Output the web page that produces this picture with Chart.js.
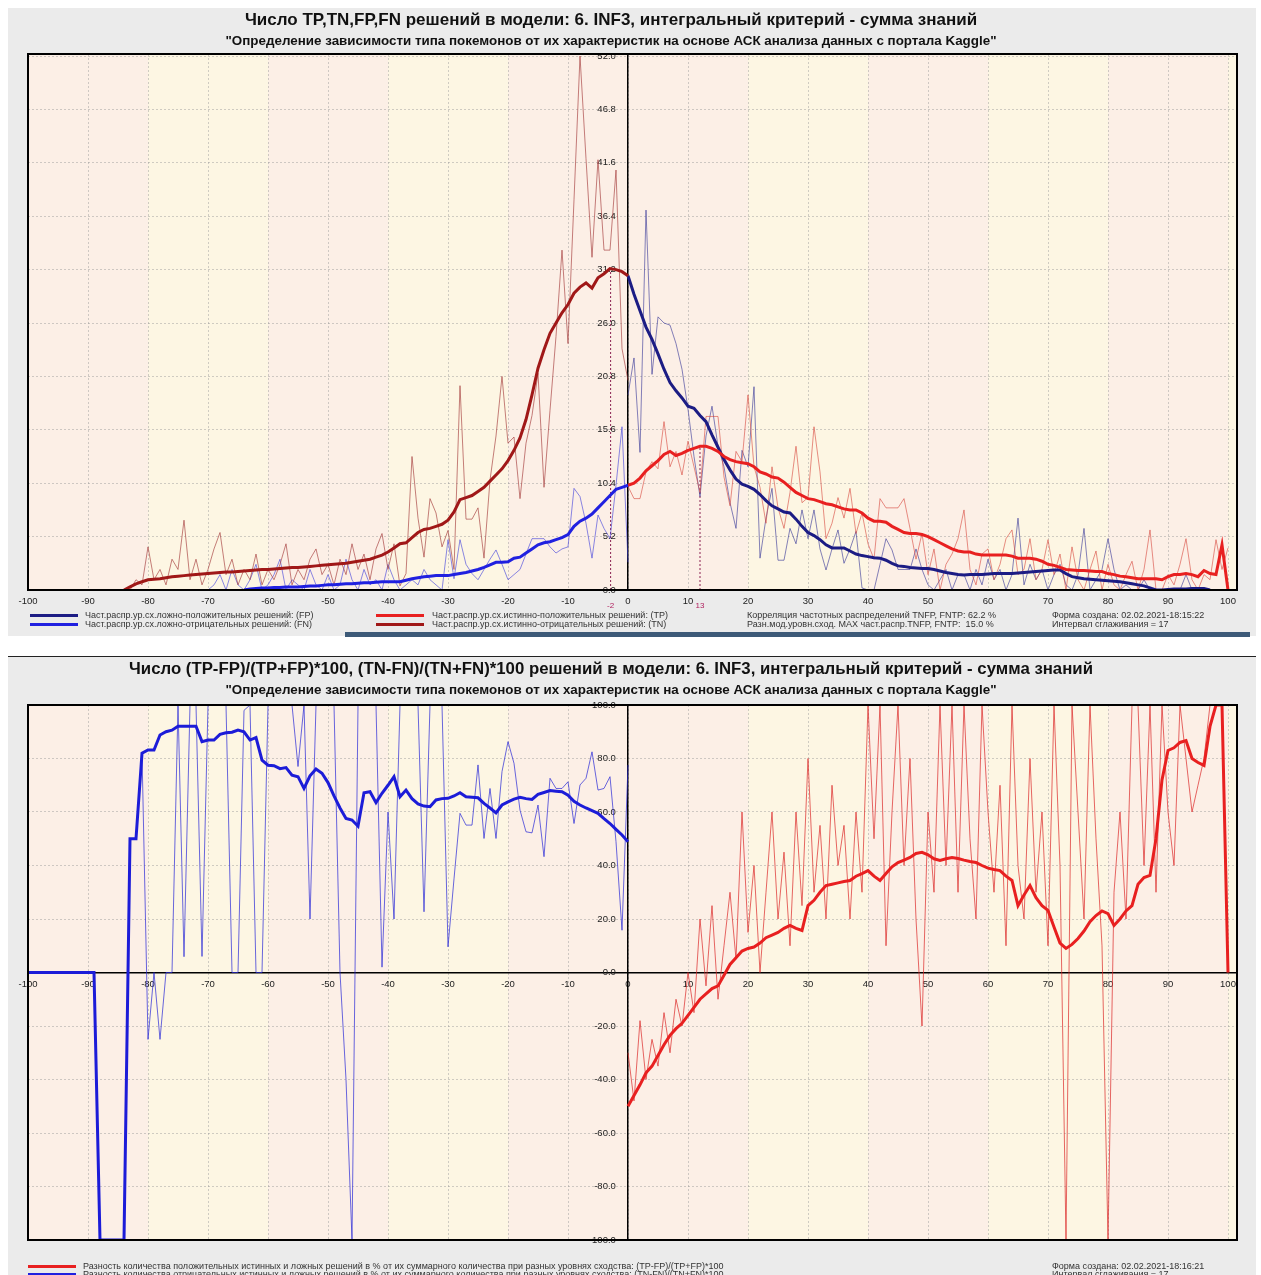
<!DOCTYPE html>
<html>
<head>
<meta charset="utf-8">
<script src="https://cdn.jsdelivr.net/npm/chart.js@4.4.1/dist/chart.umd.min.js"></script>
<style>
  body { margin: 0; width: 1261px; height: 1275px; overflow: hidden; background: #fff; font-family: "Liberation Sans", Arial, sans-serif; position: relative; }
  .panel { position: absolute; left: 8px; width: 1248px; background: #ebebeb; }
  #p1 { top: 8px; height: 628px; }
  #p2 { top: 656px; height: 619px; border-top: 1px solid #222; }
  canvas { position: absolute; left: 8px; }
  .ttl { position: absolute; left: 0; width: 1222px; text-align: center; font-weight: bold; color: #111; white-space: nowrap; }
  .t1 { font-size: 17px; line-height: 18px; }
  .t1b { font-size: 16.8px; line-height: 18px; }
  .t2 { font-size: 13.4px; line-height: 14px; }
  .lg { position: absolute; font-size: 9px; line-height: 9px; color: #333; white-space: nowrap; }
  .sw { position: absolute; height: 3px; width: 48px; }
  #bar { position: absolute; left: 345px; top: 632px; width: 905px; height: 5px; background: #3d5a78; }
</style>
</head>
<body>
<div class="panel" id="p1"></div>
<div class="panel" id="p2"></div>
<div id="bar"></div>
<canvas id="c1" width="1248" height="628" style="top:8px"></canvas>
<canvas id="c2" width="1248" height="619" style="top:656px"></canvas>

<div class="ttl t1" style="top:11px">Число TP,TN,FP,FN решений в модели: 6. INF3, интегральный критерий - сумма знаний</div>
<div class="ttl t2" style="top:34px">"Определение зависимости типа покемонов от их характеристик на основе АСК анализа данных с портала Kaggle"</div>
<div class="ttl t1b" style="top:660px">Число (TP-FP)/(TP+FP)*100, (TN-FN)/(TN+FN)*100 решений в модели: 6. INF3, интегральный критерий - сумма знаний</div>
<div class="ttl t2" style="top:683px">"Определение зависимости типа покемонов от их характеристик на основе АСК анализа данных с портала Kaggle"</div>

<div class="sw" style="left:30px;top:614px;background:#1c1c84"></div>
<div class="sw" style="left:30px;top:623px;background:#2020e0"></div>
<div class="lg" style="left:85px;top:611px">Част.распр.ур.сх.ложно-положительных решений: (FP)</div>
<div class="lg" style="left:85px;top:620px">Част.распр.ур.сх.ложно-отрицательных решений: (FN)</div>
<div class="sw" style="left:376px;top:614px;background:#e82020"></div>
<div class="sw" style="left:376px;top:623px;background:#a01818"></div>
<div class="lg" style="left:432px;top:611px">Част.распр.ур.сх.истинно-положительных решений: (TP)</div>
<div class="lg" style="left:432px;top:620px">Част.распр.ур.сх.истинно-отрицательных решений: (TN)</div>
<div class="lg" style="left:747px;top:611px">Корреляция частотных распределений TNFP, FNTP: 62.2 %</div>
<div class="lg" style="left:747px;top:620px">Разн.мод.уровн.сход. MAX част.распр.TNFP, FNTP:&nbsp; 15.0 %</div>
<div class="lg" style="left:1052px;top:611px">Форма создана: 02.02.2021-18:15:22</div>
<div class="lg" style="left:1052px;top:620px">Интервал сглаживания = 17</div>

<div class="sw" style="left:28px;top:1265px;background:#e82020"></div>
<div class="sw" style="left:28px;top:1273px;background:#2020e0"></div>
<div class="lg" style="left:83px;top:1262px">Разность количества положительных истинных и ложных решений в % от их суммарного количества при разных уровнях сходства: (TP-FP)/(TP+FP)*100</div>
<div class="lg" style="left:83px;top:1270px">Разность количества отрицательных истинных и ложных решений в % от их суммарного количества при разных уровнях сходства: (TN-FN)/(TN+FN)*100</div>
<div class="lg" style="left:1052px;top:1262px">Форма создана: 02.02.2021-18:16:21</div>
<div class="lg" style="left:1052px;top:1270px">Интервал сглаживания = 17</div>

<script>
// ---- данные: верхний график (частоты), шаг 1 по уровню сходства ----
const tnStart = -84;
const tnThick = [0, 0.3, 0.6, 0.8, 1.0, 1.05, 1.1, 1.2, 1.3, 1.35,
  1.4, 1.45, 1.5, 1.55, 1.6, 1.65, 1.7, 1.75, 1.75, 1.8,
  1.85, 1.9, 1.95, 2.0, 2.0, 2.05, 2.1, 2.15, 2.2, 2.2,
  2.25, 2.3, 2.35, 2.4, 2.45, 2.5, 2.55, 2.6, 2.7, 2.8,
  2.9, 3.0, 3.2, 3.4, 3.7, 4.1, 4.5, 4.6, 5.1, 5.6,
  5.9, 6.0, 6.2, 6.4, 6.8, 7.6, 8.8, 9.0, 9.2, 9.6,
  10.0, 10.6, 11.2, 11.8, 12.6, 13.6, 14.8, 16.6, 19.0, 21.6,
  23.4, 25.0, 26.0, 27.0, 27.8, 28.9, 29.5, 29.9, 29.4, 30.4,
  30.8, 31.3, 31.2, 31.0, 30.6];
const tnRaw = [0, 0, 1.0, 0.5, 4.2, 1.0, 2.0, 0.5, 3.0, 2.0,
  6.8, 1.0, 3.0, 0.5, 2.0, 4.0, 5.6, 1.5, 3.0, 0.5,
  2.0, 1.0, 3.5, 0.5, 2.0, 1.0, 2.5, 4.5, 0.5, 2.0,
  1.0, 3.0, 4.0, 1.5, 2.5, 0.5, 3.0, 1.5, 4.5, 2.0,
  3.5, 1.0, 4.0, 5.5, 2.0, 4.5, 0.4, 1.6, 13.0, 7.0,
  3.2, 8.9, 7.5, 4.2, 5.8, 2.0, 19.9, 6.9, 6.9, 8.0,
  3.1, 10.7, 15.0, 20.8, 14.3, 14.9, 8.9, 14.3, 17.0, 21.1,
  10.0, 17.5, 24.7, 33.1, 24.0, 38.0, 52.0, 42.0, 32.4, 41.9,
  33.1, 33.1, 40.9, 23.5, 20.4];

const fnStart = -64;
const fnThick = [0, 0.1, 0.15, 0.2, 0.2, 0.25, 0.25, 0.3, 0.3, 0.3,
  0.35, 0.4, 0.4, 0.45, 0.5, 0.5, 0.55, 0.6, 0.6, 0.65,
  0.7, 0.7, 0.75, 0.8, 0.8, 0.8, 0.8, 0.95, 1.1, 1.2,
  1.3, 1.35, 1.4, 1.4, 1.4, 1.5, 1.6, 1.7, 1.85, 2.0,
  2.2, 2.45, 2.7, 2.7, 2.75, 3.1, 3.2, 3.6, 4.0, 4.4,
  4.6, 4.7, 4.9, 5.1, 5.4, 6.2, 6.7, 7.0, 7.4, 8.0,
  8.6, 9.2, 9.8, 10.0, 10.2];
const fnRawStart = -70;
const fnRaw = [0, 0.5, 1.5, 0, 2.0, 0.5, 0, 1.0, 2.5, 0,
  0.5, 1.5, 3.0, 0, 1.0, 0.5, 0, 2.0, 0.5, 0,
  1.5, 0, 0.5, 3.0, 1.0, 0, 2.0, 0.5, 1.0, 0,
  2.5, 1.0, 0, 0.5, 1.0, 0.5, 2.0, 1.0, 0.5, 0,
  4.9, 1.1, 4.9, 2.5, 1.6, 1.0, 2.0, 3.0, 3.9, 2.5,
  1.0, 1.5, 2.0, 3.5, 5.0, 5.0, 5.0, 4.2, 3.6, 4.0,
  4.2, 9.9, 9.1, 6.5, 3.1, 7.3, 6.0, 5.0, 10.2, 15.9,
  2.7];

const tpStart = 0;
const tpThick = [10.2, 10.4, 10.9, 11.6, 12.1, 12.6, 13.2, 13.5, 13.1, 13.3,
  13.6, 13.8, 14.0, 14.0, 13.8, 13.5, 13.0, 12.7, 12.5, 12.4,
  12.3, 12.0, 11.5, 11.3, 11.0, 10.9, 10.5, 10.0, 9.5, 9.2,
  8.9, 8.8, 8.6, 8.4, 8.3, 8.1, 7.9, 7.8, 7.8, 7.5,
  7.0, 6.7, 6.7, 6.6, 6.2, 5.9, 5.6, 5.5, 5.5, 5.4,
  5.2, 4.9, 4.6, 4.3, 4.0, 3.8, 3.7, 3.7, 3.5, 3.4,
  3.4, 3.4, 3.4, 3.4, 3.3, 3.1, 3.1, 3.1, 3.0, 2.8,
  2.5, 2.4, 2.2, 2.0, 1.95, 1.9, 1.9, 1.85, 1.8, 1.8,
  1.6, 1.5, 1.35, 1.3, 1.2, 1.1, 1.1, 1.1, 1.1, 1.0,
  1.3, 1.5, 1.5, 1.6, 1.5, 1.3, 1.9, 1.6, 1.5, 4.4,
  0];
const tpRaw = [10.1, 8.9, 8.9, 11.5, 12.5, 11.8, 16.4, 12.0, 13.5, 11.2,
  14.5, 12.0, 9.5, 16.9, 16.9, 16.9, 11.0, 8.2, 13.5, 12.5,
  19.0, 12.0, 10.0, 6.5, 12.0, 8.0, 6.0, 9.5, 14.0, 8.5,
  9.0, 15.9, 11.5, 5.0, 6.5, 9.0, 7.0, 9.9, 5.5, 7.5,
  4.5, 3.0, 8.9, 8.0, 8.0, 8.0, 8.9, 6.0, 3.0, 5.5,
  1.5, 4.0, 0, 2.5, 3.5, 5.0, 7.8, 2.0, 0.5, 3.5,
  4.0, 1.0, 2.5, 5.0, 5.85, 1.5, 2.0, 5.0, 1.0, 2.0,
  4.9, 1.5, 3.5, 0, 4.2, 1.0, 0, 2.0, 3.8, 0,
  2.5, 0.5, 0, 1.5, 2.8, 0, 2.0, 5.85, 0, 0,
  1.5, 0.5, 2.5, 5.0, 1.0, 0, 1.5, 1.0, 4.9, 2.0,
  4.1];

const fpStart = 0;
const fpThick = [30.6, 28.8, 27.2, 25.6, 24.4, 23.0, 21.5, 20.2, 19.4, 18.7,
  17.9, 17.7, 17.0, 16.4, 15.1, 13.9, 12.7, 11.7, 10.8, 10.3,
  10.1, 9.8, 9.3, 8.7, 8.2, 7.9, 7.6, 7.5, 6.9, 6.2,
  5.6, 5.3, 4.9, 4.4, 4.1, 4.1, 4.1, 3.8, 3.5, 3.35,
  3.25, 3.15, 3.1, 2.9, 2.6, 2.35, 2.3, 2.2, 2.15, 2.1,
  2.1, 2.0, 1.85, 1.7, 1.6, 1.5, 1.45, 1.5, 1.5, 1.5,
  1.55, 1.6, 1.6, 1.6, 1.6, 1.65, 1.7, 1.75, 1.8, 1.85,
  1.9, 1.95, 1.95, 1.6, 1.3, 1.2, 1.1, 1.05, 1.0, 0.95,
  0.9, 0.85, 0.8, 0.7, 0.6, 0.5, 0.4, 0.2, 0, 0,
  0.05, 0.1, 0.1, 0.1, 0.15, 0.15, 0.15, 0];
const fpRaw = [19.0, 22.6, 13.4, 37.0, 21.0, 26.6, 26.0, 25.8, 24.0, 21.5,
  17.6, 13.0, 9.1, 15.0, 17.9, 14.0, 12.0, 8.5, 6.0, 13.6,
  12.0, 19.8, 3.1, 7.0, 9.9, 2.9, 2.9, 6.0, 4.5, 7.8,
  5.0, 7.8, 4.0, 1.95, 4.0, 5.85, 2.6, 4.0, 5.7, 0.2,
  0, 0, 2.5, 5.0, 3.9, 2.0, 2.0, 2.0, 4.0, 2.0,
  0.5, 0, 1.0, 2.0, 0, 1.5, 1.5, 0, 2.0, 0.5,
  3.0, 1.0, 2.0, 0, 1.5, 7.0, 0.5, 2.5, 1.0, 2.0,
  0, 1.5, 2.5, 0.5, 0, 1.5, 6.0, 0, 1.0, 2.0,
  5.0, 2.0, 0, 0.5, 0, 0, 1.0, 0, 0, 0,
  0, 0, 0, 1.5, 0, 0, 0, 0];

// пунктирные маркеры максимумов и подписи к ним
const markPos = [-2.9, 12];
const markTop = [31.3, 14.0];
const markText = ["-2", "13"];

// ---- данные: нижний график (разности в %) ----
const negStart = -100;
const negThick = [0, 0, 0, 0, 0, 0, 0, 0, 0, 0,
  0, 0, -100, -100, -100, -100, -100, 50, 50, 82,
  83.2, 83.2, 88.8, 90, 90.6, 92.1, 92.1, 92.1, 92.1, 86.3,
  86.9, 86.9, 89.0, 89.6, 89.8, 90.6, 90.0, 86.9, 87.8, 79.4,
  77.5, 77.3, 76.2, 76.6, 73.8, 73.2, 68.8, 73.5, 76.1, 74.5,
  71.0, 66.0, 61.5, 57.6, 57.0, 54.7, 67.2, 67.6, 63.5, 67.0,
  70.0, 73.2, 65.7, 68.2, 65.0, 63.0, 62.2, 62.0, 64.5, 65.0,
  65.1, 66.0, 67.2, 65.7, 65.5, 65.3, 63.2, 61.5, 59.7, 62.6,
  63.8, 64.8, 65.5, 65.0, 64.7, 66.6, 67.3, 68.0, 67.8, 67.6,
  66.3, 64.0, 62.6, 61.5, 60.5, 59.5, 57.5, 55.7, 53.5, 51.4,
  48.9];
const negRaw = [0, 0, 0, 0, 0, 0, 0, 0, 0, 0,
  0, 0, -100, -100, -100, -100, -100, 50, 50, 82,
  -25, 0, -25, 0, 0, 100, 5.9, 100, 100, 6,
  100, 100, 100, 100, 0, 0, 98, 100, 0, 0,
  100, 100, 100, 100, 100, 77, 100, 20, 100, 100,
  100, 100, 0, -40, -100, 100, 100, 100, 100, 2,
  60, 20, 100, 100, 100, 100, 22.7, 100, 100, 100,
  9.6, 35, 59.5, 55.1, 55.1, 77.6, 50.1, 68.8, 50.1, 75.1,
  86.3, 78.2, 60.7, 52.6, 52.2, 62.6, 43.3, 72.6, 68.8, 68.8,
  71.3, 55.7, 70.1, 72.6, 82.5, 68.2, 68.8, 73.2, 48.9, 15.8,
  77.6];

const posStart = 0;
const posThick = [-50, -46, -42, -37.5, -35, -31, -27, -23.5, -21, -19,
  -16, -13, -10, -8, -6, -5, -1, 3, 5.5, 8,
  9, 9.5, 11, 13, 14, 15, 16.5, 17.6, 16.5, 15.7,
  25, 27, 30, 32.5, 33, 33.5, 34, 34.4, 36, 37,
  38.1, 36, 34.4, 37, 39.5, 41.1, 42, 43, 44.5, 44.9,
  44, 42.5, 41.9, 42.5, 43, 42.6, 42, 41.5, 41.1, 40,
  39, 38.5, 38.1, 36, 34.4, 25, 29, 32.5, 28, 25,
  23.2, 17, 11, 9, 10.5, 12.7, 15.5, 19, 21.3, 23,
  22, 17.6, 20, 23, 25, 33, 35.5, 36.3, 50, 72,
  83, 84, 86, 86.7, 80, 78.5, 77.4, 92, 100, 100,
  0];
const posRaw = [-30, -48, -18, -40, -25, -35, -15, -30, -10, -20,
  0, -15, 20, -5, 25, -10, 10, 30, 5, 60,
  15, 40, 0, 30, 60, 20, 45, 10, 60, 25,
  80, 30, 55, 20, 70, 40, 55, 20, 60, 30,
  100, 50, 100, 10, 60, 100, 40, 80, 20, -20,
  60, 30, 100, 40, 100, 30, 100, 50, 20, 100,
  60, 30, 70, 10, 100, 40, 20, 80, 30, 60,
  10, 100, 40, -100, 100, 60, 20, 100, 50, 10,
  -100, 30, 60, 20, 100, 100, 40, 100, 30, 100,
  60, 40, 100, 80, 60, 70, 80, 100, 100, 100,
  0];

const xTicks = [-100, 101.5, 10];
const legendFont = '"Liberation Sans", Arial, sans-serif';

// ---------------------------------------------------------------
function pts(start, arr) {
  return arr.map((y, i) => ({ x: start + i, y }));
}

function line(data, color, width, order) {
  return { data, borderColor: color, borderWidth: width, pointRadius: 0, tension: 0, order, fill: false };
}

// подпись оси Y у нулевой вертикали: отступ от оси пробелами
const yLabel = v => Number(v).toFixed(1) + "\u2002\u2002 ";

Chart.defaults.font.family = legendFont;
Chart.defaults.color = "#222";

// полосы фона по 20 единиц, розовые у нуля
const bandsPlugin = {
  id: "bands",
  beforeDraw(chart) {
    const { ctx, chartArea: a, scales: { x } } = chart;
    ctx.save();
    for (let v = -100; v < x.max; v += 20) {
      const l = x.getPixelForValue(v);
      const r = x.getPixelForValue(Math.min(v + 20, x.max));
      const idx = v < 0 ? Math.floor(-(v + 1) / 20) : Math.floor(v / 20);
      ctx.fillStyle = idx % 2 === 0 ? "#fcefe6" : "#fdf6e3";
      ctx.fillRect(l, a.top, r - l, a.bottom - a.top);
    }
    ctx.restore();
  }
};

const framePlugin = {
  id: "frame",
  afterDraw(chart) {
    const { ctx, chartArea: a } = chart;
    ctx.save();
    ctx.strokeStyle = "#000";
    ctx.lineWidth = 2;
    ctx.strokeRect(a.left, a.top, a.right - a.left, a.bottom - a.top);
    ctx.restore();
  }
};

const markLabels = {
  id: "markLabels",
  afterDraw(chart) {
    const { ctx, chartArea: a, scales: { x } } = chart;
    ctx.save();
    ctx.fillStyle = "#b0205e";
    ctx.font = "8px " + legendFont;
    ctx.textAlign = "center";
    ctx.textBaseline = "top";
    markPos.forEach((p, i) => ctx.fillText(markText[i], x.getPixelForValue(p), a.bottom + 12));
    ctx.restore();
  }
};

const gridStyle = { color: "rgba(150,150,150,0.45)", drawTicks: false };
const tickFont = { size: 9.5 };

function xScale(extra) {
  return Object.assign({
    type: "linear", min: xTicks[0], max: xTicks[1],
    ticks: { stepSize: xTicks[2], includeBounds: false, font: tickFont, color: "#222", padding: 6, callback: v => String(v) },
    grid: gridStyle,
    border: { color: "#000", width: 1, dash: [2, 2] }
  }, extra);
}

// ---- верхний график ----
const markSets = markPos.map((p, i) => ({
  data: [{ x: p, y: 0 }, { x: p, y: markTop[i] }],
  borderColor: "#8b2252", borderWidth: 1, borderDash: [2, 2], pointRadius: 0, order: 5
}));

new Chart(document.getElementById("c1"), {
  type: "line",
  data: {
    datasets: [
      line(pts(tnStart, tnRaw), "rgba(165,60,60,0.65)", 1, 4),
      line(pts(fnRawStart, fnRaw), "rgba(60,60,220,0.6)", 1, 4),
      line(pts(tpStart, tpRaw), "rgba(215,70,60,0.6)", 1, 4),
      line(pts(fpStart, fpRaw), "rgba(50,50,150,0.6)", 1, 4),
      ...markSets,
      line(pts(tnStart, tnThick), "#a01818", 3, 1),
      line(pts(fnStart, fnThick), "#2020e0", 3, 1),
      line(pts(tpStart, tpThick), "#e82020", 3, 1),
      line(pts(fpStart, fpThick), "#1c1c84", 3, 1)
    ]
  },
  options: {
    responsive: false, animation: false, devicePixelRatio: 1,
    layout: { padding: { left: 20, right: 19, top: 46, bottom: 26 } },
    plugins: { legend: { display: false }, tooltip: { enabled: false } },
    scales: {
      x: xScale({ position: "bottom", afterFit: s => { s.height = 20; } }),
      y: {
        type: "linear", position: { x: 0 }, min: 0, max: 52.2,
        ticks: { stepSize: 5.2, includeBounds: false, font: tickFont, color: "#222", callback: yLabel },
        grid: gridStyle,
        border: { color: "#000", width: 1.5, dash: [2, 2] }
      }
    }
  },
  plugins: [bandsPlugin, framePlugin, markLabels]
});

// ---- нижний график ----
new Chart(document.getElementById("c2"), {
  type: "line",
  data: {
    datasets: [
      line(pts(negStart, negRaw), "rgba(40,40,215,0.7)", 1, 4),
      line(pts(posStart, posRaw), "rgba(220,40,40,0.7)", 1, 4),
      line(pts(negStart, negThick), "#1c1cd8", 3, 1),
      line(pts(posStart, posThick), "#e82020", 3, 1)
    ]
  },
  options: {
    responsive: false, animation: false, devicePixelRatio: 1,
    layout: { padding: { left: 20, right: 19, top: 49, bottom: 35 } },
    plugins: { legend: { display: false }, tooltip: { enabled: false } },
    scales: {
      x: xScale({ position: { y: 0 }, border: { color: "#000", width: 1.5, dash: [2, 2] } }),
      y: {
        type: "linear", position: { x: 0 }, min: -100, max: 100,
        ticks: { stepSize: 20, font: tickFont, color: "#222", callback: yLabel },
        grid: gridStyle,
        border: { color: "#000", width: 1.5, dash: [2, 2] }
      }
    }
  },
  plugins: [bandsPlugin, framePlugin]
});
</script>
</body>
</html>
